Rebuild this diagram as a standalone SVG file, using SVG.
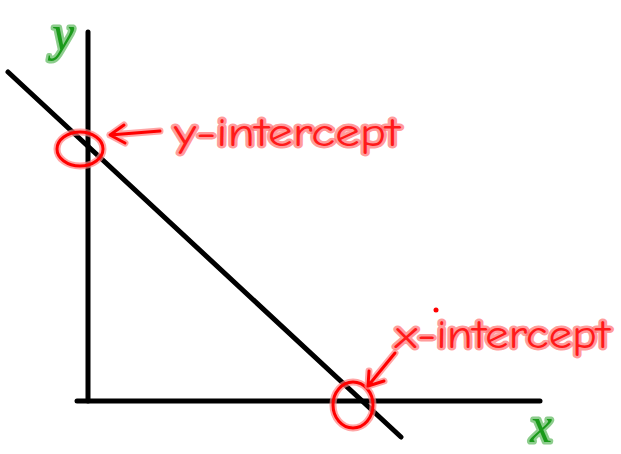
<svg xmlns="http://www.w3.org/2000/svg" width="621" height="454" viewBox="0 0 621 454">
<style>
.ax{stroke:#000;stroke-width:5;stroke-linecap:round;fill:none}
.rh{stroke:#ff8080;stroke-opacity:0.7;stroke-width:7;fill:none;stroke-linecap:round;stroke-linejoin:round}
.rc{stroke:#ff0000;stroke-width:3;fill:none;stroke-linecap:round;stroke-linejoin:round}
.rt{font-family:"Comic Neue","Liberation Sans",sans-serif;fill:#ff1a1a;stroke:#ff7070;stroke-opacity:0.7;stroke-width:5;paint-order:stroke;stroke-linejoin:round}
.gt{font-family:"Liberation Serif",serif;font-style:italic;fill:#1a9a1a;stroke:#70c070;stroke-width:5;stroke-opacity:0.8;paint-order:stroke;stroke-linejoin:round}
</style>
<rect width="621" height="454" fill="#fff"/>
<g id="axes">
<line class="ax" x1="88" y1="32" x2="88" y2="401"/>
<line class="ax" x1="77" y1="401" x2="540" y2="401"/>
</g>
<g id="line">
<line class="ax" x1="8" y1="72" x2="401" y2="437"/>
</g>
<g id="y-label"><text class="gt" x="52" y="50" font-size="50">y</text></g>
<g id="x-label"><text class="gt" x="530" y="442" font-size="50">x</text></g>
<g id="y-intercept">
<ellipse class="rh" cx="80" cy="149" rx="23" ry="17"/>
<ellipse class="rc" cx="80" cy="149" rx="23" ry="17"/>
<path class="rh" d="M160 131 L110 135 M124 125 L110 135 L125 143"/>
<path class="rc" d="M160 131 L110 135 M124 125 L110 135 L125 143"/>
<text class="rt" x="174" y="146" font-size="40" textLength="226" lengthAdjust="spacingAndGlyphs">y-intercept</text>
</g>
<g id="x-intercept">
<ellipse class="rh" cx="353" cy="405" rx="20" ry="23"/>
<ellipse class="rc" cx="353" cy="405" rx="20" ry="23"/>
<path class="rh" d="M395 353 L368 386 M369 371 L368 386 L384 381"/>
<path class="rc" d="M395 353 L368 386 M369 371 L368 386 L384 381"/>
<circle cx="436" cy="310" r="2.5" fill="#ff0000"/>
<text class="rt" x="395" y="348" font-size="40" textLength="215" lengthAdjust="spacingAndGlyphs">x-intercept</text>
</g>
</svg>
